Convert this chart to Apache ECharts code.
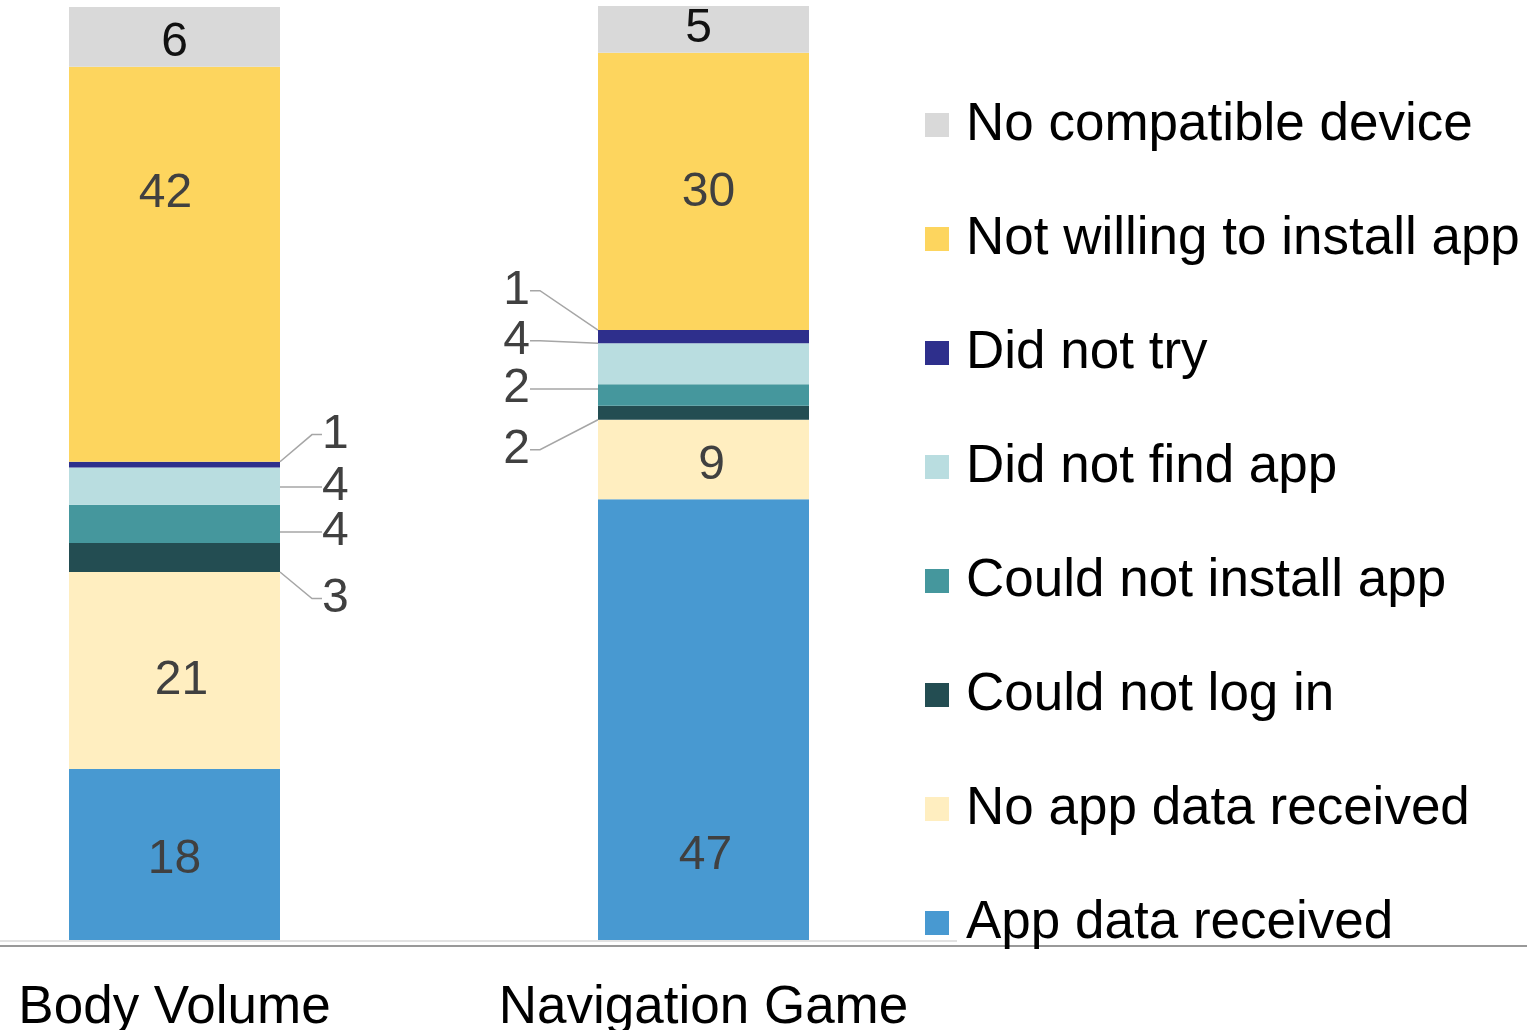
<!DOCTYPE html>
<html>
<head>
<meta charset="utf-8">
<script src="https://cdn.jsdelivr.net/npm/echarts@6/dist/echarts.min.js"></script>
<style>
  html, body { margin: 0; padding: 0; background: #fff; }
  #main { width: 1527px; height: 1030px; }
</style>
</head>
<body>
<div id="main"></div>
<script>
// percent of participants per bar (labels are rounded)
const categories = ['Body Volume', 'Navigation Game'];
const appDataReceived = [18.3, 47.2];
const noAppDataReceived = [21.1, 8.5];
const couldNotLogIn = [3.1, 1.5];
const couldNotInstallApp = [4.1, 2.3];
const didNotFindApp = [4.0, 4.4];
const didNotTry = [0.6, 1.4];
const notWillingToInstall = [42.3, 29.7];
const noCompatibleDevice = [6.4, 5.0];

const seriesList = [
    { name: 'App data received', data: appDataReceived, color: '#4899D1' },
    { name: 'No app data received', data: noAppDataReceived, color: '#FFEEC0' },
    { name: 'Could not log in', data: couldNotLogIn, color: '#234D52', outside: true },
    { name: 'Could not install app', data: couldNotInstallApp, color: '#45979D', outside: true },
    { name: 'Did not find app', data: didNotFindApp, color: '#B9DDE0', outside: true },
    { name: 'Did not try', data: didNotTry, color: '#2E2F8C', outside: true },
    { name: 'Not willing to install app', data: notWillingToInstall, color: '#FDD55E' },
    { name: 'No compatible device', data: noCompatibleDevice, color: '#D9D9D9' }
];

// label nudges [body, nav] as [dx, dy]
const nudges = {
    'App data received': [[0, 5], [2, 136]],
    'No app data received': [[7, 10], [8, 6]],
    'Could not log in': [[0, 41], [0, 37]],
    'Could not install app': [[0, 8], [0, -6]],
    'Did not find app': [[0, 1], [0, -23]],
    'Did not try': [[0, -30], [0, -46]],
    'Not willing to install app': [[-9, -70], [5, 1]],
    'No compatible device': [[0, 6], [-5, -1]]
};

var myChart = echarts.init(document.getElementById('main'));

let series = seriesList.map(s => {
    let data = s.data.map((v, i) => {
        let item = { value: v };
        if (s.outside) {
            item.label = {
                position: i === 0 ? 'right' : 'left',
                distance: i === 0 ? 42 : 68,
                color: '#404040'
            };
        }
        return item;
    });
    return {
        name: s.name,
        type: 'bar',
        stack: 'total',
        barWidth: 211,
        clip: false,
        itemStyle: { color: s.color },
        data: data,
        label: {
            show: true,
            position: 'inside',
            fontFamily: 'Liberation Sans, Arial, sans-serif',
            fontSize: 48,
            color: s.name === 'No compatible device' ? '#111' : '#404040',
            formatter: p => Math.round(p.value)
        },
        labelLine: {
            show: !!s.outside,
            length2: 10,
            lineStyle: { color: '#A6A6A6', width: 1.5 }
        },
        labelLayout: function(params) {
            let n = nudges[s.name][params.dataIndex];
            return { dx: n[0], dy: n[1] };
        },
        emphasis: { disabled: true }
    };
});

option = {
    animation: false,
    backgroundColor: '#fff',
    grid: {
        left: 174.5,
        right: 823.5,
        top: 6,
        bottom: 90,
        containLabel: false,
        outerBoundsMode: 'none'
    },
    legend: {
        orient: 'vertical',
        left: 925,
        top: 95,
        padding: 0,
        itemWidth: 24,
        itemHeight: 24,
        itemGap: 54,
        icon: 'rect',
        selectedMode: false,
        data: seriesList.map(s => s.name).reverse(),
        textStyle: {
            fontFamily: 'Liberation Sans, Arial, sans-serif',
            fontSize: 53,
            lineHeight: 60,
            color: '#000',
            padding: [0, 0, 0, 12]
        }
    },
    xAxis: {
        type: 'category',
        data: categories,
        boundaryGap: false,
        axisTick: { show: false },
        axisLine: { show: false },
        axisLabel: {
            interval: 0,
            hideOverlap: false,
            margin: 42,
            fontFamily: 'Liberation Sans, Arial, sans-serif',
            fontSize: 53,
            color: '#000'
        }
    },
    yAxis: {
        type: 'value',
        min: 0,
        max: 100,
        show: false,
        splitLine: { show: false }
    },
    graphic: [{
        type: 'line',
        shape: { x1: 0, y1: 941, x2: 957, y2: 941 },
        style: { stroke: '#D9D9D9', lineWidth: 1.5 }
    }, {
        type: 'line',
        shape: { x1: 0, y1: 946, x2: 1527, y2: 946 },
        style: { stroke: '#999', lineWidth: 2 }
    }],
    series: series
};

myChart.setOption(option);
</script>
</body>
</html>
